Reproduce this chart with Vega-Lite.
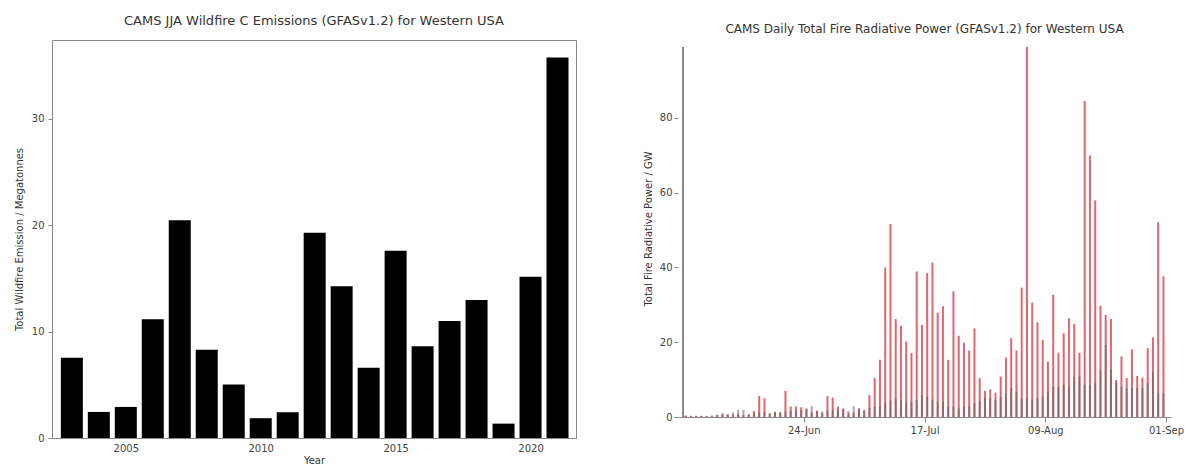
{
  "$schema": "https://vega.github.io/schema/vega-lite/v6.json",
  "padding": {"left": 13, "top": 14, "right": 5, "bottom": 0},
  "spacing": 66,
  "config": {
    "font": "DejaVu Sans",
    "axis": {"labelFont": "DejaVu Sans", "labelFontSize": 10, "labelColor": "#444", "titleFont": "DejaVu Sans", "titleFontSize": 10, "titleFontWeight": "normal", "titleColor": "#333", "domainColor": "#888", "tickColor": "#888", "grid": false},
    "title": {"font": "DejaVu Sans", "fontWeight": "normal", "color": "#333", "frame": "group"}
  },
  "hconcat": [
    {
      "width": 524,
      "height": 398,
      "title": {"text": "CAMS JJA Wildfire C Emissions (GFASv1.2) for Western USA", "fontSize": 13, "offset": 12},
      "view": {"stroke": "#888", "strokeWidth": 1},
      "data": {"values": [
        {"year": 2003, "emission": 7.55},
        {"year": 2004, "emission": 2.45},
        {"year": 2005, "emission": 2.92},
        {"year": 2006, "emission": 11.16},
        {"year": 2007, "emission": 20.47},
        {"year": 2008, "emission": 8.3},
        {"year": 2009, "emission": 5.03},
        {"year": 2010, "emission": 1.86},
        {"year": 2011, "emission": 2.42},
        {"year": 2012, "emission": 19.28},
        {"year": 2013, "emission": 14.25},
        {"year": 2014, "emission": 6.6},
        {"year": 2015, "emission": 17.6},
        {"year": 2016, "emission": 8.62},
        {"year": 2017, "emission": 11.0},
        {"year": 2018, "emission": 12.96},
        {"year": 2019, "emission": 1.35},
        {"year": 2020, "emission": 15.16},
        {"year": 2021, "emission": 35.75}
      ]},
      "mark": {"type": "bar", "size": 22, "color": "#000000"},
      "encoding": {
        "x": {"field": "year", "type": "quantitative", "scale": {"domain": [2002.45, 2021.5], "nice": false, "zero": false},
              "axis": {"values": [2005, 2010, 2015, 2020], "format": "d", "title": "Year", "tickSize": 0, "labelPadding": 5, "titlePadding": 2, "domain": false}},
        "y": {"field": "emission", "type": "quantitative", "scale": {"domain": [0, 37.4], "nice": false},
              "axis": {"values": [0, 10, 20, 30], "title": "Total Wildfire Emission / Megatonnes", "tickSize": 4, "labelPadding": 4, "titlePadding": 7, "domain": false}}
      }
    },
    {
      "width": 493,
      "height": 377,
      "title": {"text": "CAMS Daily Total Fire Radiative Power (GFASv1.2) for Western USA", "fontSize": 12, "offset": 4},
      "view": {"stroke": null},
      "data": {"values": [
        {"date": "2021-06-01", "frp": 0.3, "frp_ref": 0.4},
        {"date": "2021-06-02", "frp": 0.3, "frp_ref": 0.3},
        {"date": "2021-06-03", "frp": 0.2, "frp_ref": 0.3},
        {"date": "2021-06-04", "frp": 0.3, "frp_ref": 0.3},
        {"date": "2021-06-05", "frp": 0.2, "frp_ref": 0.3},
        {"date": "2021-06-06", "frp": 0.2, "frp_ref": 0.4},
        {"date": "2021-06-07", "frp": 0.5, "frp_ref": 0.6},
        {"date": "2021-06-08", "frp": 1.0, "frp_ref": 0.7},
        {"date": "2021-06-09", "frp": 0.6, "frp_ref": 0.8},
        {"date": "2021-06-10", "frp": 0.5, "frp_ref": 1.2},
        {"date": "2021-06-11", "frp": 0.8, "frp_ref": 1.9},
        {"date": "2021-06-12", "frp": 0.5, "frp_ref": 1.9},
        {"date": "2021-06-13", "frp": 0.6, "frp_ref": 0.8},
        {"date": "2021-06-14", "frp": 1.6, "frp_ref": 1.0},
        {"date": "2021-06-15", "frp": 5.6, "frp_ref": 1.2},
        {"date": "2021-06-16", "frp": 5.0, "frp_ref": 1.3},
        {"date": "2021-06-17", "frp": 0.8, "frp_ref": 1.1},
        {"date": "2021-06-18", "frp": 1.4, "frp_ref": 1.2},
        {"date": "2021-06-19", "frp": 1.2, "frp_ref": 1.3},
        {"date": "2021-06-20", "frp": 7.0, "frp_ref": 1.5},
        {"date": "2021-06-21", "frp": 2.8, "frp_ref": 1.6},
        {"date": "2021-06-22", "frp": 2.8, "frp_ref": 1.7},
        {"date": "2021-06-23", "frp": 2.6, "frp_ref": 1.8},
        {"date": "2021-06-24", "frp": 2.3, "frp_ref": 2.0},
        {"date": "2021-06-25", "frp": 1.2, "frp_ref": 2.9},
        {"date": "2021-06-26", "frp": 1.7, "frp_ref": 1.6},
        {"date": "2021-06-27", "frp": 1.0, "frp_ref": 1.5},
        {"date": "2021-06-28", "frp": 5.6, "frp_ref": 1.7},
        {"date": "2021-06-29", "frp": 5.2, "frp_ref": 1.8},
        {"date": "2021-06-30", "frp": 2.8, "frp_ref": 2.0},
        {"date": "2021-07-01", "frp": 2.3, "frp_ref": 2.0},
        {"date": "2021-07-02", "frp": 1.0, "frp_ref": 1.6},
        {"date": "2021-07-03", "frp": 1.2, "frp_ref": 2.9},
        {"date": "2021-07-04", "frp": 2.3, "frp_ref": 2.2},
        {"date": "2021-07-05", "frp": 1.6, "frp_ref": 2.0},
        {"date": "2021-07-06", "frp": 5.9, "frp_ref": 2.4},
        {"date": "2021-07-07", "frp": 10.4, "frp_ref": 2.7},
        {"date": "2021-07-08", "frp": 15.3, "frp_ref": 3.0},
        {"date": "2021-07-09", "frp": 40.0, "frp_ref": 3.8},
        {"date": "2021-07-10", "frp": 51.6, "frp_ref": 4.4},
        {"date": "2021-07-11", "frp": 26.2, "frp_ref": 4.8},
        {"date": "2021-07-12", "frp": 24.4, "frp_ref": 4.5},
        {"date": "2021-07-13", "frp": 20.2, "frp_ref": 4.2},
        {"date": "2021-07-14", "frp": 17.1, "frp_ref": 4.0},
        {"date": "2021-07-15", "frp": 38.9, "frp_ref": 4.6},
        {"date": "2021-07-16", "frp": 24.6, "frp_ref": 5.9},
        {"date": "2021-07-17", "frp": 38.5, "frp_ref": 5.4},
        {"date": "2021-07-18", "frp": 41.3, "frp_ref": 4.6},
        {"date": "2021-07-19", "frp": 27.9, "frp_ref": 4.1},
        {"date": "2021-07-20", "frp": 29.6, "frp_ref": 4.1},
        {"date": "2021-07-21", "frp": 15.3, "frp_ref": 2.8},
        {"date": "2021-07-22", "frp": 33.6, "frp_ref": 2.8},
        {"date": "2021-07-23", "frp": 21.7, "frp_ref": 2.3},
        {"date": "2021-07-24", "frp": 19.9, "frp_ref": 2.8},
        {"date": "2021-07-25", "frp": 17.8, "frp_ref": 2.8},
        {"date": "2021-07-26", "frp": 23.7, "frp_ref": 3.7},
        {"date": "2021-07-27", "frp": 10.4, "frp_ref": 4.1},
        {"date": "2021-07-28", "frp": 7.0, "frp_ref": 5.0},
        {"date": "2021-07-29", "frp": 7.4, "frp_ref": 5.0},
        {"date": "2021-07-30", "frp": 6.5, "frp_ref": 4.6},
        {"date": "2021-07-31", "frp": 10.8, "frp_ref": 5.4},
        {"date": "2021-08-01", "frp": 15.9, "frp_ref": 6.3},
        {"date": "2021-08-02", "frp": 21.1, "frp_ref": 7.7},
        {"date": "2021-08-03", "frp": 17.8, "frp_ref": 6.8},
        {"date": "2021-08-04", "frp": 34.6, "frp_ref": 5.0},
        {"date": "2021-08-05", "frp": 98.9, "frp_ref": 5.0},
        {"date": "2021-08-06", "frp": 30.6, "frp_ref": 4.6},
        {"date": "2021-08-07", "frp": 25.3, "frp_ref": 5.0},
        {"date": "2021-08-08", "frp": 20.6, "frp_ref": 5.4},
        {"date": "2021-08-09", "frp": 14.8, "frp_ref": 6.8},
        {"date": "2021-08-10", "frp": 32.7, "frp_ref": 8.1},
        {"date": "2021-08-11", "frp": 17.2, "frp_ref": 8.1},
        {"date": "2021-08-12", "frp": 22.4, "frp_ref": 8.6},
        {"date": "2021-08-13", "frp": 26.4, "frp_ref": 8.1},
        {"date": "2021-08-14", "frp": 24.9, "frp_ref": 10.8},
        {"date": "2021-08-15", "frp": 17.2, "frp_ref": 10.8},
        {"date": "2021-08-16", "frp": 84.5, "frp_ref": 8.6},
        {"date": "2021-08-17", "frp": 69.9, "frp_ref": 8.6},
        {"date": "2021-08-18", "frp": 57.9, "frp_ref": 9.0},
        {"date": "2021-08-19", "frp": 29.7, "frp_ref": 12.5},
        {"date": "2021-08-20", "frp": 27.3, "frp_ref": 19.3},
        {"date": "2021-08-21", "frp": 26.2, "frp_ref": 12.6},
        {"date": "2021-08-22", "frp": 9.9, "frp_ref": 9.4},
        {"date": "2021-08-23", "frp": 16.2, "frp_ref": 8.1},
        {"date": "2021-08-24", "frp": 10.4, "frp_ref": 7.7},
        {"date": "2021-08-25", "frp": 18.1, "frp_ref": 7.7},
        {"date": "2021-08-26", "frp": 11.0, "frp_ref": 7.7},
        {"date": "2021-08-27", "frp": 10.5, "frp_ref": 7.7},
        {"date": "2021-08-28", "frp": 18.4, "frp_ref": 9.0},
        {"date": "2021-08-29", "frp": 21.3, "frp_ref": 12.1},
        {"date": "2021-08-30", "frp": 52.1, "frp_ref": 6.3},
        {"date": "2021-08-31", "frp": 37.6, "frp_ref": 6.3}
      ]},
      "encoding": {
        "x": {"field": "date", "type": "temporal",
              "scale": {"type": "utc", "domain": [{"year": 2021, "month": 6, "date": 1, "utc": true}, {"year": 2021, "month": 9, "date": 1, "utc": true}]},
              "axis": {"title": null, "labelExpr": "utcFormat(datum.value, '%d-%b')", "tickSize": 5, "labelPadding": 3,
                       "values": [{"year": 2021, "month": 6, "date": 24, "utc": true}, {"year": 2021, "month": 7, "date": 17, "utc": true}, {"year": 2021, "month": 8, "date": 9, "utc": true}, {"year": 2021, "month": 9, "date": 1, "utc": true}]}}
      },
      "layer": [
        {
          "mark": {"type": "bar", "size": 2, "color": "#d8404c", "opacity": 0.8, "xOffset": 2.7},
          "encoding": {
            "y": {"field": "frp", "type": "quantitative", "scale": {"domain": [0, 100.8], "nice": false},
                  "axis": {"values": [0, 20, 40, 60, 80], "title": "Total Fire Radiative Power / GW", "tickSize": 4, "labelPadding": 2, "titlePadding": 6, "domain": false}}
          }
        },
        {
          "mark": {"type": "bar", "size": 2, "color": "#606060", "opacity": 0.55, "xOffset": 2.7},
          "encoding": {
            "y": {"field": "frp_ref", "type": "quantitative"}
          }
        },
        {
          "mark": {"type": "rule", "color": "#888", "strokeWidth": 1},
          "encoding": {
            "x": {"datum": {"year": 2021, "month": 6, "date": 1, "utc": true}},
            "y": {"datum": 0},
            "y2": {"datum": 98.9}
          }
        }
      ]
    }
  ]
}
